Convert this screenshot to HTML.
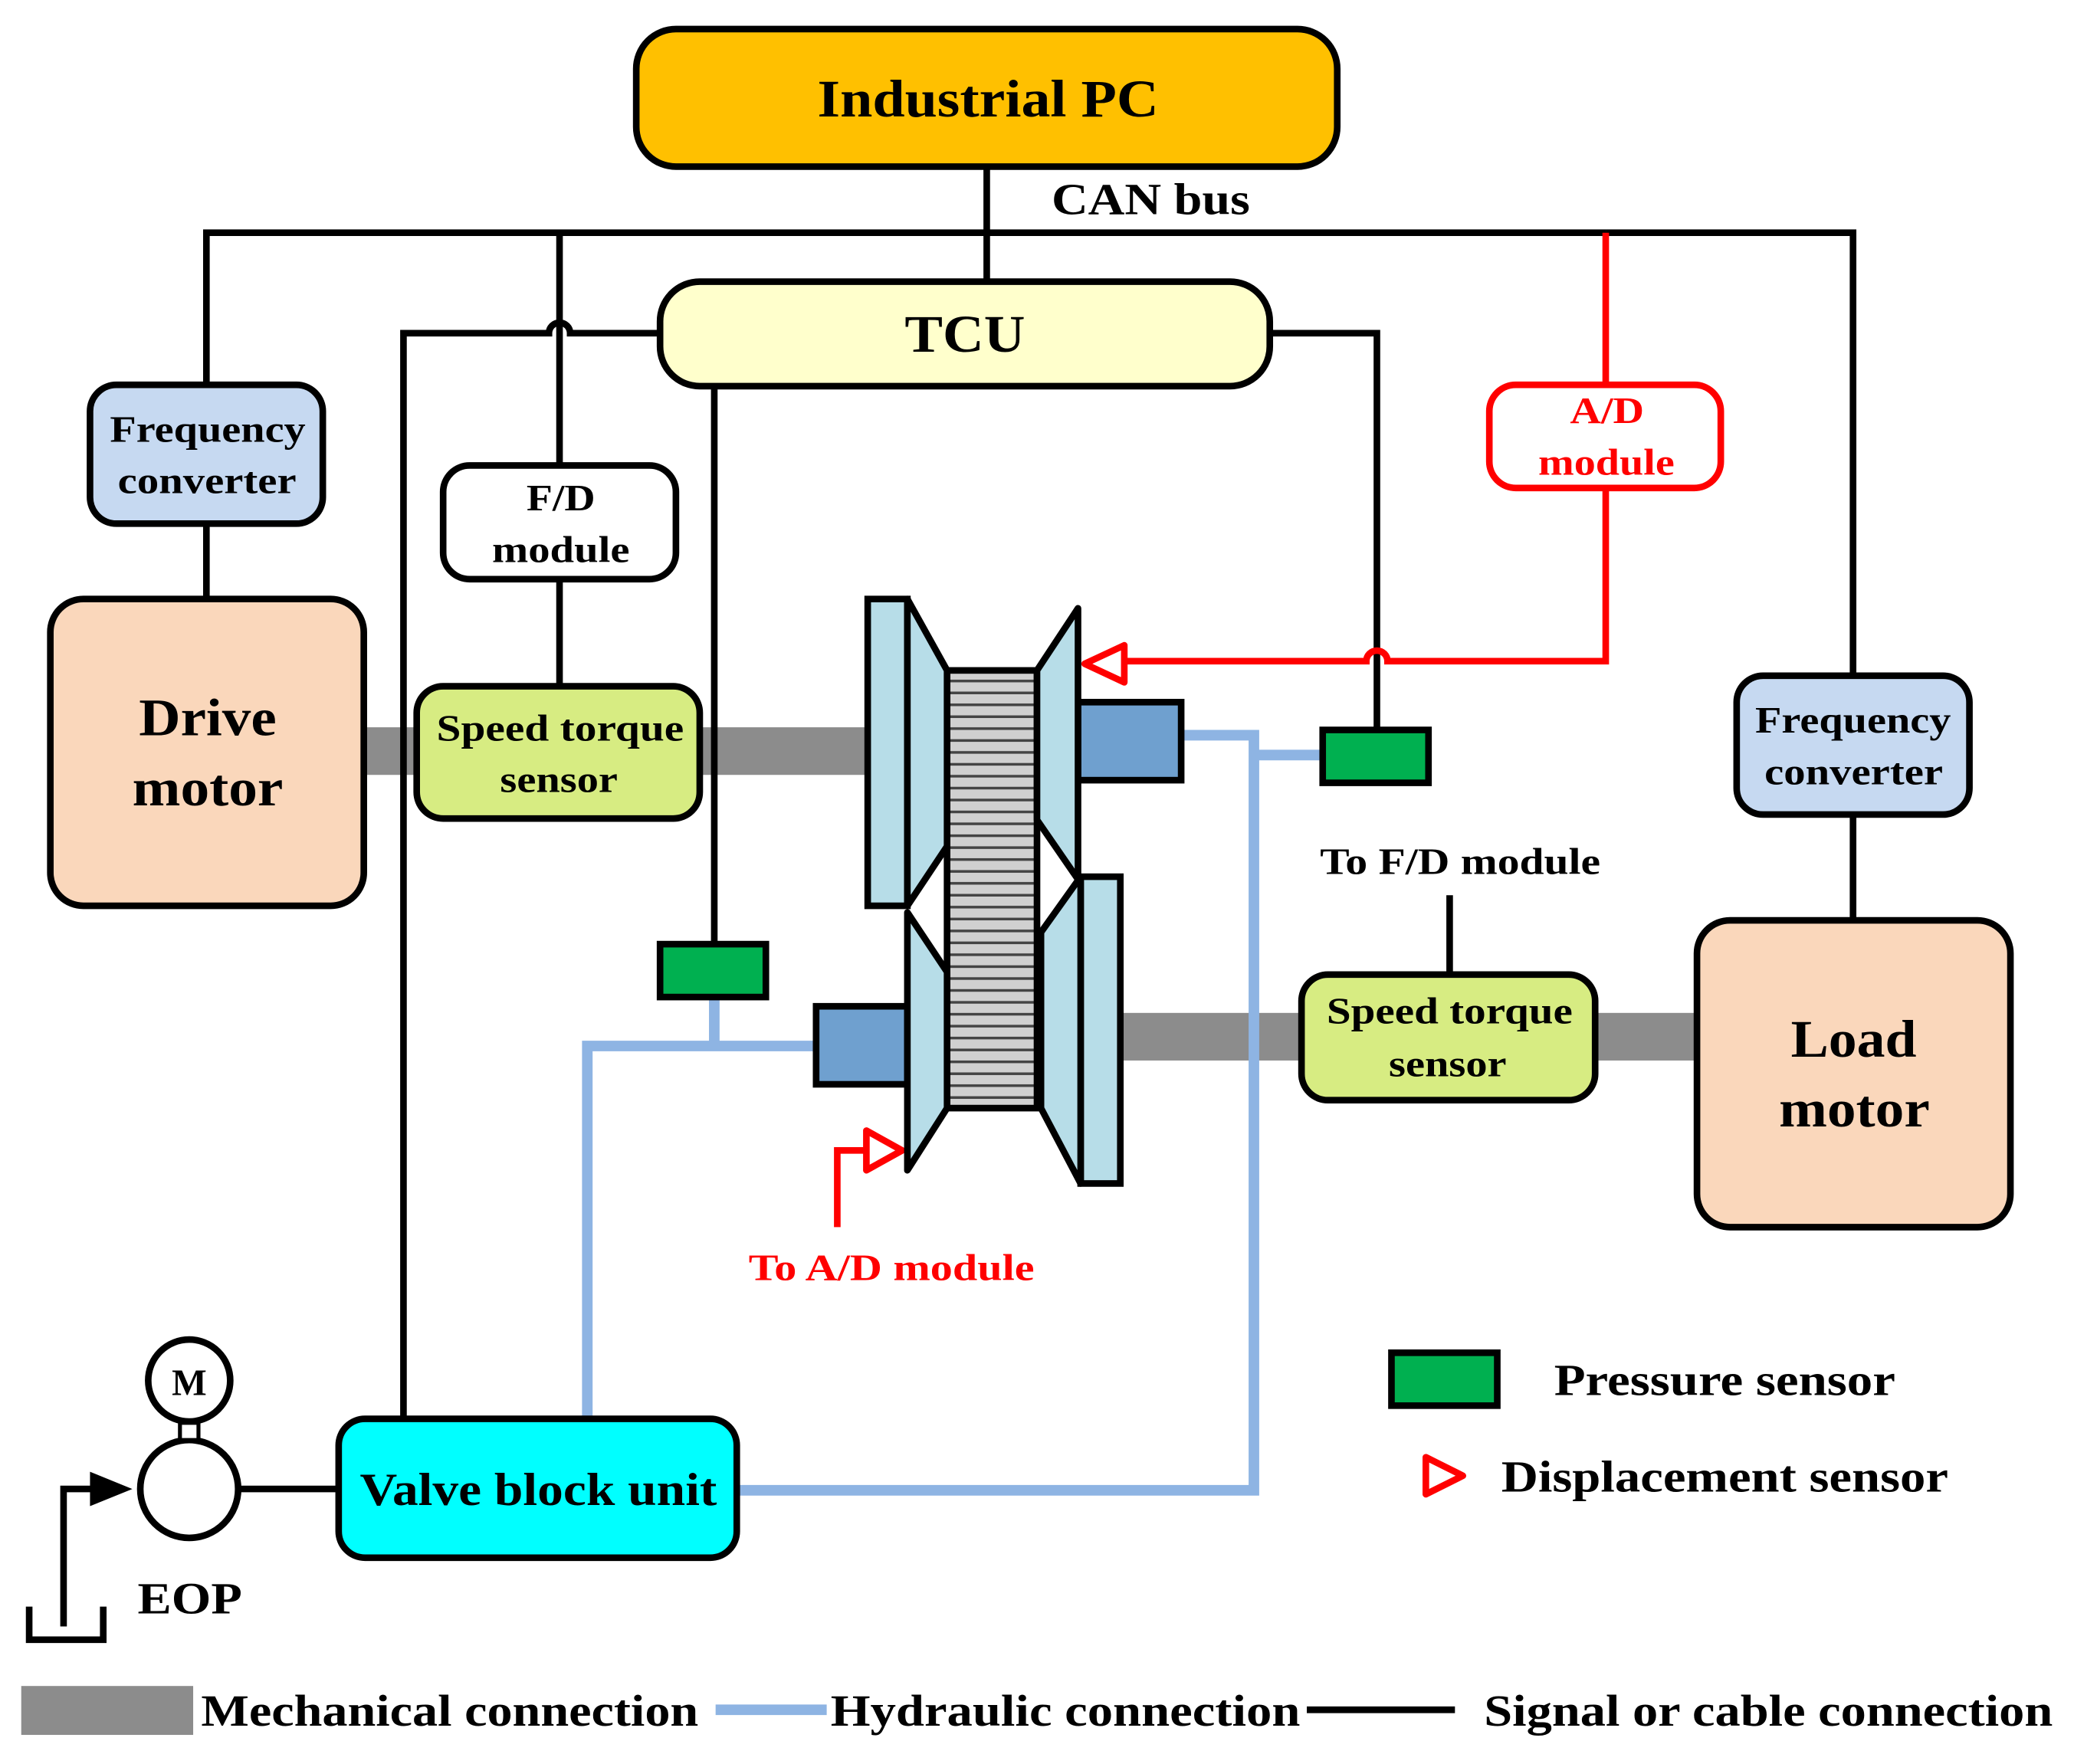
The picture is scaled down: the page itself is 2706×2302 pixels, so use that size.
<!DOCTYPE html>
<html><head><meta charset="utf-8"><style>
html,body{margin:0;padding:0;background:#fff;}
svg{display:block;}
text{font-family:"Liberation Serif",serif;font-weight:bold;fill:#000;}
</style></head><body>
<svg width="2706" height="2302" viewBox="0 0 1568 1334" xmlns="http://www.w3.org/2000/svg">
<defs>
<pattern id="belt" x="0" y="507" width="10" height="9" patternUnits="userSpaceOnUse">
<rect width="10" height="9" fill="#d0d0d0"/><rect y="7" width="10" height="2" fill="#444"/>
</pattern>
</defs>
<rect x="275" y="550" width="385" height="36" fill="#8c8c8c"/>
<rect x="845" y="766" width="440" height="36" fill="#8c8c8c"/>
<g stroke="#8EB4E3" stroke-width="8" fill="none">
<polyline points="893,556 948,556 948,1127 557,1127"/>
<polyline points="948,571 1002,571"/>
<polyline points="617,791 444,791 444,1073"/>
<polyline points="540,754 540,791"/>
</g>
<g stroke="#000" stroke-width="5" fill="none">
<line x1="746" y1="126" x2="746" y2="213"/>
<polyline points="156,291 156,176 1214,176"/>
<polyline points="1214,176 1401,176 1401,511"/>
<line x1="1401" y1="616" x2="1401" y2="696"/>
<line x1="156" y1="396" x2="156" y2="453"/>
<line x1="423" y1="176" x2="423" y2="352"/>
<line x1="423" y1="438" x2="423" y2="519"/>
<path d="M499,252 L431,252 A8,8 0 0 0 415,252 L305,252 L305,1073"/>
<polyline points="960,252 1041,252 1041,552"/>
<line x1="540" y1="292" x2="540" y2="714"/>
<line x1="1096" y1="677" x2="1096" y2="737"/>
<line x1="181" y1="1126" x2="256" y2="1126"/>
<polyline points="48,1230 48,1126 70,1126"/>
<polyline points="22,1215 22,1240 78,1240 78,1215"/>
<line x1="988" y1="1293" x2="1100" y2="1293"/>
</g>
<polygon points="68,1113 100,1126 68,1139" fill="#000"/>
<g stroke="#f00" stroke-width="5" fill="none">
<line x1="1214" y1="176" x2="1214" y2="291"/>
<path d="M1214,369 L1214,500 L1049,500 A8,8 0 0 0 1033,500 L850,500"/>
<polygon points="820,502 850,488 850,516" stroke-linejoin="round"/>
<polyline points="633,928 633,870 655,870"/>
<polygon points="655,855 682,870 655,885" stroke-linejoin="round"/>
<polygon points="1078,1102 1106,1116 1078,1130" stroke-linejoin="round"/>
</g>
<g stroke="#000" stroke-width="5">
<rect x="481" y="22" width="530" height="104" rx="30" fill="#FFC000"/>
<rect x="499" y="213" width="461" height="79" rx="30" fill="#FFFFCC"/>
<rect x="68" y="291" width="176" height="105" rx="20" fill="#C6D9F1"/>
<rect x="1313" y="511" width="176" height="105" rx="20" fill="#C6D9F1"/>
<rect x="38" y="453" width="237" height="232" rx="25" fill="#FAD7BB"/>
<rect x="1283" y="696" width="237" height="232" rx="25" fill="#FAD7BB"/>
<rect x="335" y="352" width="176" height="86" rx="20" fill="#fff"/>
<rect x="315" y="519" width="214" height="100" rx="20" fill="#D7EC82"/>
<rect x="984" y="737" width="222" height="95" rx="20" fill="#D7EC82"/>
<rect x="256" y="1073" width="301" height="105" rx="20" fill="#00FFFF"/>
<rect x="1000" y="552" width="80" height="40" fill="#00B050"/>
<rect x="499" y="714" width="80" height="40" fill="#00B050"/>
<rect x="1052" y="1023" width="80" height="40" fill="#00B050"/>
<rect x="815" y="531" width="78" height="59" fill="#6FA0CF"/>
<rect x="617" y="761" width="69" height="59" fill="#6FA0CF"/>
<rect x="716" y="507" width="68" height="331" fill="url(#belt)"/>
<rect x="656" y="453" width="30" height="232" fill="#B7DDE8"/>
<polygon points="686,453 716,507 716,640 686,685" fill="#B7DDE8" stroke-linejoin="round"/>
<polygon points="686,690 716,735 716,838 686,885" fill="#B7DDE8" stroke-linejoin="round"/>
<polygon points="815,460 784,507 784,620 815,665" fill="#B7DDE8" stroke-linejoin="round"/>
<rect x="817" y="663" width="30" height="232" fill="#B7DDE8"/>
<polygon points="817,663 787,705 787,838 817,895" fill="#B7DDE8" stroke-linejoin="round"/>
<circle cx="143" cy="1126" r="37" fill="#fff"/>
<circle cx="143" cy="1044" r="31" fill="#fff"/>
<rect x="136" y="1076" width="14" height="13" fill="#fff" stroke-width="3"/>
</g>
<rect x="1126" y="291" width="175" height="78" rx="20" fill="#fff" stroke="#f00" stroke-width="5"/>
<rect x="16" y="1275" width="130" height="37" fill="#8c8c8c"/>
<line x1="541" y1="1293" x2="625" y2="1293" stroke="#8EB4E3" stroke-width="8"/>
<g lengthAdjust="spacingAndGlyphs">
<text x="618" y="88" font-size="40" textLength="258" lengthAdjust="spacingAndGlyphs">Industrial PC</text>
<text x="684" y="266" font-size="40" textLength="91" lengthAdjust="spacingAndGlyphs">TCU</text>
<text x="83" y="334" font-size="28" textLength="148" lengthAdjust="spacingAndGlyphs">Frequency</text>
<text x="89" y="373" font-size="28" textLength="135" lengthAdjust="spacingAndGlyphs">converter</text>
<text x="1327" y="554" font-size="28" textLength="148" lengthAdjust="spacingAndGlyphs">Frequency</text>
<text x="1334" y="593" font-size="28" textLength="135" lengthAdjust="spacingAndGlyphs">converter</text>
<text x="105" y="556" font-size="40" textLength="104" lengthAdjust="spacingAndGlyphs">Drive</text>
<text x="100" y="609" font-size="40" textLength="114" lengthAdjust="spacingAndGlyphs">motor</text>
<text x="1354" y="799" font-size="40" textLength="95" lengthAdjust="spacingAndGlyphs">Load</text>
<text x="1345" y="852" font-size="40" textLength="114" lengthAdjust="spacingAndGlyphs">motor</text>
<text x="398" y="386" font-size="28" textLength="52" lengthAdjust="spacingAndGlyphs">F/D</text>
<text x="372" y="425" font-size="28" textLength="104" lengthAdjust="spacingAndGlyphs">module</text>
<text x="1187" y="320" font-size="28" textLength="56" lengthAdjust="spacingAndGlyphs" style="fill:#f00">A/D</text>
<text x="1163" y="359" font-size="28" textLength="103" lengthAdjust="spacingAndGlyphs" style="fill:#f00">module</text>
<text x="330" y="560" font-size="28" textLength="187" lengthAdjust="spacingAndGlyphs">Speed torque</text>
<text x="378" y="599" font-size="28" textLength="89" lengthAdjust="spacingAndGlyphs">sensor</text>
<text x="1003" y="774" font-size="28" textLength="186" lengthAdjust="spacingAndGlyphs">Speed torque</text>
<text x="1050" y="814" font-size="28" textLength="89" lengthAdjust="spacingAndGlyphs">sensor</text>
<text x="272" y="1138" font-size="35" textLength="270" lengthAdjust="spacingAndGlyphs">Valve block unit</text>
<text x="143" y="1055" font-size="28" text-anchor="middle">M</text>
<text x="104" y="1220" font-size="34" textLength="79" lengthAdjust="spacingAndGlyphs">EOP</text>
<text x="566" y="968" font-size="28" textLength="216" lengthAdjust="spacingAndGlyphs" style="fill:#f00">To A/D module</text>
<text x="998" y="661" font-size="28" textLength="212" lengthAdjust="spacingAndGlyphs">To F/D module</text>
<text x="795" y="162" font-size="34" textLength="150" lengthAdjust="spacingAndGlyphs">CAN bus</text>
<text x="1175" y="1055" font-size="34" textLength="258" lengthAdjust="spacingAndGlyphs">Pressure sensor</text>
<text x="1135" y="1128" font-size="34" textLength="338" lengthAdjust="spacingAndGlyphs">Displacement sensor</text>
<text x="152" y="1305" font-size="34" textLength="376" lengthAdjust="spacingAndGlyphs">Mechanical connection</text>
<text x="628" y="1305" font-size="34" textLength="355" lengthAdjust="spacingAndGlyphs">Hydraulic connection</text>
<text x="1122" y="1305" font-size="34" textLength="430" lengthAdjust="spacingAndGlyphs">Signal or cable connection</text>
</g>
</svg>
</body></html>
